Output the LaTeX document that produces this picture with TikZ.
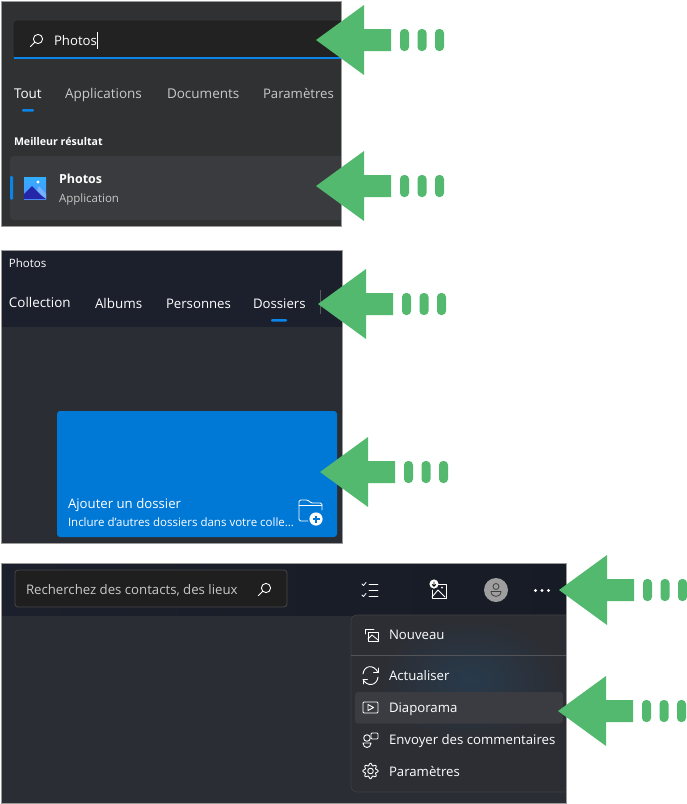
\documentclass[tikz,border=0pt]{standalone}
\usepackage{fontspec}
\setmainfont{Open Sans}
\definecolor{arrowgreen}{HTML}{52B96F}
\definecolor{panelgray}{HTML}{303132}
\definecolor{borderc}{HTML}{9A9A9A}
\definecolor{searchfill}{HTML}{222222}
\definecolor{accent}{HTML}{0A84E8}
\definecolor{rowfill}{HTML}{3A3B3E}
\definecolor{bandc}{HTML}{1B202C}
\definecolor{bodyc}{HTML}{2B2D34}
\definecolor{cardc}{HTML}{0078D6}
\definecolor{mutedc}{HTML}{C9C9C9}
\definecolor{menuc}{HTML}{2C2E34}
\definecolor{menuglow}{HTML}{283A4C}
\definecolor{hoverc}{HTML}{3A3C41}
\tikzset{
  x=1pt,y=-1pt,
  lbl/.style={anchor=base west,inner sep=0pt,outer sep=0pt,text=white,font=\fontsize{13.2}{15}\selectfont},
  muted/.style={lbl,text=mutedc},
  tabl/.style={lbl,font=\fontsize{13.5}{15}\selectfont},
  small/.style={lbl,font=\fontsize{11.5}{13}\selectfont},
  strongl/.style={lbl,font=\fontsize{12.5}{15}\selectfont\bfseries},
  panel/.style={draw=borderc,line width=1pt},
  icon/.style={draw=white,line width=0.9pt,line cap=round,line join=round},
  dashbar/.style={fill=arrowgreen,rounded corners=4pt},
}
% #1 = tip x, #2 = tip y
\newcommand{\greenarrow}[2]{%
  \fill[arrowgreen] (#1,#2) -- ++(48,-35) -- ++(0,24) -- ++(27,0) -- ++(0,22) -- ++(-27,0) -- ++(0,24) -- cycle;
  \fill[dashbar] (#1+84,#2-11) rectangle ++(9,22);
  \fill[dashbar] (#1+101.5,#2-11) rectangle ++(9,22);
  \fill[dashbar] (#1+119,#2-11) rectangle ++(9,22);
}
% magnifier, #1 x, #2 y centre of the lens
\newcommand{\lens}[2]{%
  \draw[icon] (#1,#2) circle[radius=4.6];
  \draw[icon] (#1-3.3,#2+3.3) -- ++(-4.2,4.2);
}
\begin{document}
\begin{tikzpicture}
\useasboundingbox (0,0) rectangle (687,804);
\fill[white] (0,0) rectangle (687,804);

% ---------- panel 1
\fill[panelgray] (1,1) rectangle (341,226);
\begin{scope}
\clip (1,1) rectangle (341,226);
\fill[searchfill,draw=white!22!black,line width=.8pt,rounded corners=3pt] (13,20) rectangle (350,58);
\fill[rowfill,rounded corners=3pt] (10,156) rectangle (350,220);
\end{scope}
\draw[accent,line width=1.6pt] (13.5,58) -- (341,58);
\lens{38}{39}
\node[lbl] (q1) at (54,45) {Photos};
\draw[white,line width=.6pt] (97,32) -- (97,49);
\node[tabl] (t1) at (14,98) {Tout};
\node[tabl,text=mutedc] (t2) at (65,98) {Applications};
\node[tabl,text=mutedc] (t3) at (167,98) {Documents};
\node[tabl,text=mutedc,font=\fontsize{13.2}{15}\selectfont] (t4) at (263,98) {Paramètres};
\fill[accent,rounded corners=1pt] (22,109) rectangle (34,111.5);
\node[small,font=\fontsize{10.6}{13}\selectfont\bfseries] (best) at (14,145) {Meilleur résultat};
\fill[accent,rounded corners=1pt] (10,176) rectangle (13,199.5);
% Photos app icon
\fill[top color=cyan!60!blue!80,bottom color=blue!60!cyan!70] (24,177) rectangle (46,199);
\fill[white] (38,182) circle[radius=1.7];
\fill[blue!55!cyan!55] (33,199) -- (39,186) -- (46,194) -- (46,199) -- cycle;
\fill[blue!60!black!85] (24,194) -- (32,186) -- (42,196) -- (46,199) -- (24,199) -- cycle;
\node[strongl] (r1) at (59,183) {Photos};
\node[small,text=mutedc] (r2) at (59,202) {Application};
\draw[panel] (1,1) rectangle (341,226);

% ---------- panel 2
\fill[bodyc] (1,250) rectangle (342,543);
\fill[bandc] (1,250) rectangle (342,327);
\node[small] (w) at (9,267) {Photos};
\node[lbl,font=\fontsize{13.4}{15}\selectfont] (a1) at (9,307) {Collection};
\node[lbl,font=\fontsize{13.4}{15}\selectfont] (a2) at (95,308) {Albums};
\node[lbl] (a3) at (166,308) {Personnes};
\node[lbl] (a4) at (253,308) {Dossiers};
\fill[accent,rounded corners=1pt] (271,319) rectangle (287,321.5);
\draw[gray!70!black,line width=.6pt] (320,290) -- (320,314);
\fill[cardc,rounded corners=3pt] (57,411) rectangle (337,537);
\node[lbl] (c1) at (68,508) {Ajouter un dossier};
\node[small] (c2) at (68,526) {Inclure d'autres dossiers dans votre colle...};
% folder-plus icon
\draw[icon,rounded corners=1.5pt] (322,510) -- (322,503) -- (311,503) -- (308,500) -- (299,500) -- (299,521) -- (308,521);
\draw[icon] (299,505) -- (322,505);
\fill[white] (316,519) circle[radius=6.6];
\draw[cardc,line width=1.2pt] (312.5,519) -- (319.5,519) (316,515.5) -- (316,522.5);
\draw[panel] (1,250) rectangle (342,543);

% ---------- panel 3
\fill[bodyc] (1,563) rectangle (566,803);
\shade[left color=bandc,right color=bandc!85!black] (1,563) rectangle (566,615);
\fill[black!88!white,draw=white!28!black,line width=.8pt,rounded corners=3pt] (15,570) rectangle (287,607);
\node[muted] (s1) at (26,594) {Recherchez des contacts, des lieux};
\lens{266}{588}
% task icon
\draw[icon,line width=.8pt] (369,584) -- (378,584) (369,590) -- (378,590) (369,596) -- (378,596);
\draw[icon,line width=.8pt] (362,584) -- (363.5,585.5) -- (366,582.5) (362,595) -- (363.5,596.5) -- (366,593.5);
% image-download icon
\draw[icon] (436,584) -- (446,584) -- (446,598) -- (432,598) -- (432,590);
\draw[icon] (432,597) -- (438,590) -- (445,597);
\fill[white] (434,584) circle[radius=4.6];
\draw[black,line width=.8pt] (434,581.5) -- (434,586) (432.2,584.4) -- (434,586.2) -- (435.8,584.4);
\fill[white] (442,587.5) circle[radius=1];
% avatar
\fill[white!62!black] (496,590) circle[radius=12];
\draw[icon,draw=black!75,line width=.8pt] (496,586.5) circle[radius=3];
\draw[icon,draw=black!75,line width=.8pt] (491,591.5) -- (501,591.5) .. controls (501,598) and (491,598) .. cycle;
% three dots
\fill[white] (535.5,590.5) circle[radius=1.7] (542,590.5) circle[radius=1.7] (548.5,590.5) circle[radius=1.7];
% menu
\begin{scope}
\clip (1,563) rectangle (566,803);
\fill[menuc,draw=black!75,line width=.6pt,rounded corners=6pt] (351,615) rectangle (580,792);
\end{scope}
\begin{scope}
\clip (351.5,616) rectangle (566,791);
\shade[inner color=menuglow,outer color=menuc] (380,620) rectangle (560,740);
\end{scope}
\draw[white!18!menuc,line width=.7pt] (351,655.5) -- (566,655.5);
\fill[hoverc,rounded corners=3pt] (355,692) rectangle (563,723.5);
\node[lbl] (m1) at (389,639) {Nouveau};
\node[lbl] (m2) at (389,680) {Actualiser};
\node[lbl] (m3) at (389,712) {Diaporama};
\node[lbl] (m4) at (389,744) {Envoyer des commentaires};
\node[lbl] (m5) at (389,776) {Paramètres};
% nouveau icon
\draw[icon,line width=.8pt] (365,634) -- (365,629) -- (374,629);
\draw[icon,line width=.8pt] (368,632) rectangle (378,641);
\draw[icon,line width=.8pt] (368,639) -- (372,635) -- (378,640);
% refresh icon
\draw[icon] (363,674) .. controls (364,665) and (374,664) .. (378,672.5);
\draw[icon] (378,677) .. controls (377,686) and (367,687) .. (363,679.5);
\draw[icon] (378,668) -- (378,672.5) -- (373.5,672.5);
\draw[icon] (363,684) -- (363,679.5) -- (367.5,679.5);
% slideshow icon
\draw[icon,rounded corners=1pt] (363,702) rectangle (378,713);
\draw[icon] (368,704.5) -- (373.5,707.5) -- (368,710.5) -- cycle;
% feedback icon
\draw[icon,rounded corners=1pt] (371,733) rectangle (378,739);
\draw[icon] (367,738) circle[radius=3.3];
\draw[icon] (363,743) -- (371,743) .. controls (371,749) and (363,749) .. cycle;
% gear icon
\draw[icon] (370.5,771) circle[radius=2.8];
\draw[icon] plot[domain=0:360,samples=65] ({370.5+(6.6+1.1*cos(8*\x))*cos(\x)},{771+(6.6+1.1*cos(8*\x))*sin(\x)});
\draw[panel] (1,563) rectangle (566,803);

% ---------- arrows
\greenarrow{316}{40}
\greenarrow{316}{186}
\greenarrow{318}{304}
\greenarrow{320}{472}
\greenarrow{559}{590}
\greenarrow{558}{711}
\end{tikzpicture}
\end{document}
